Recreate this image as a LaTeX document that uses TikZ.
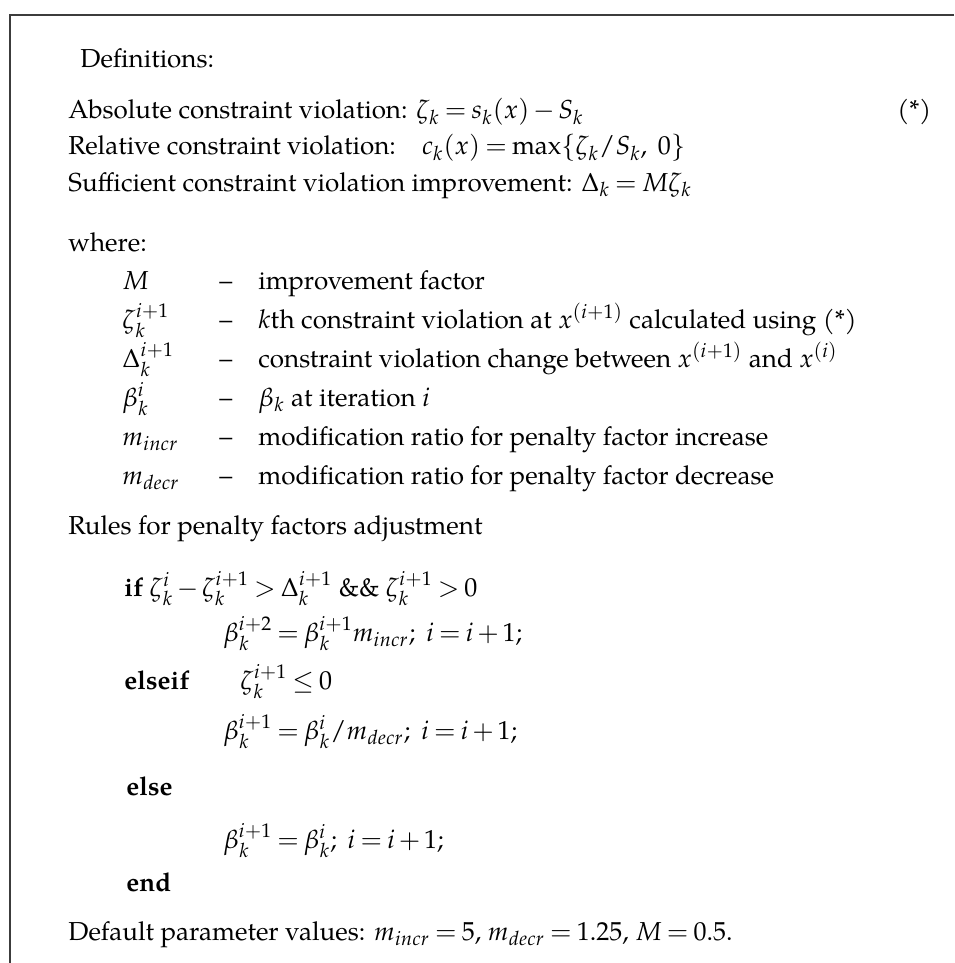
\documentclass[tikz,border=0pt]{standalone}
\usepackage{mathpazo}
\usepackage{fontspec}
\setmainfont{texgyrepagella}[Extension=.otf, UprightFont=*-regular, BoldFont=*-bold, ItalicFont=*-italic, BoldItalicFont=*-bolditalic]
\definecolor{framegray}{RGB}{60,60,60}
\newcommand{\mincr}{m_{incr}}
\newcommand{\mdecr}{m_{decr}}
\thickmuskip=3.5mu plus 1mu
\medmuskip=2.5mu plus 1mu
\tikzset{
  txt/.style={anchor=base west, inner sep=0pt, font=\fontsize{13pt}{15pt}\selectfont},
  kw/.style={txt, font=\fontsize{13pt}{15pt}\selectfont\bfseries},
  frame/.style={draw=framegray, line width=1pt}
}

\begin{document}
\begin{tikzpicture}[x=0.5pt, y=-0.5pt]
  \useasboundingbox (0,0) rectangle (954,963);
  % open frame, cut off at the right and at the bottom
  \draw[frame] (954,15) -- (10,15) -- (10,963);

  % definitions
  \node[txt] (defs) at (80,68) {Definitions:};
  \node[txt] (absviol) at (68,119) {Absolute constraint violation: $\zeta_k = s_k(x) - S_k$};
  \node[txt] (star) at (897,119) {(*)};
  \node[txt] (relviol) at (68,155) {Relative constraint violation:\quad $c_k(x) = \max\{\zeta_k/S_k,\ 0\}$};
  \node[txt] (suffimp) at (68,191) {Sufficient constraint violation improvement: $\Delta_k = M\zeta_k$};

  % where list
  \node[txt] (where) at (68,251) {where:};
  \node[txt] (symM) at (122,289) {$M$};
  \node[txt] (dashM) at (219,289) {--};
  \node[txt] (descM) at (258,289) {improvement factor};
  \node[txt] (symZeta) at (122,328) {$\zeta_k^{i+1}$};
  \node[txt] (dashZeta) at (219,328) {--};
  \node[txt] (descZeta) at (258,328) {$k$th constraint violation at $x^{(i+1)}$ calculated using (*)};
  \node[txt] (symDelta) at (122,367) {$\Delta_k^{i+1}$};
  \node[txt] (dashDelta) at (219,367) {--};
  \node[txt] (descDelta) at (258,367) {constraint violation change between $x^{(i+1)}$ and $x^{(i)}$};
  \node[txt] (symBeta) at (122,406) {$\beta_k^{i}$};
  \node[txt] (dashBeta) at (219,406) {--};
  \node[txt] (descBeta) at (258,406) {$\beta_k$ at iteration $i$};
  \node[txt] (symIncr) at (122,445) {$\mincr$};
  \node[txt] (dashIncr) at (219,445) {--};
  \node[txt] (descIncr) at (258,445) {modification ratio for penalty factor increase};
  \node[txt] (symDecr) at (122,484) {$\mdecr$};
  \node[txt] (dashDecr) at (219,484) {--};
  \node[txt] (descDecr) at (258,484) {modification ratio for penalty factor decrease};

  % adjustment rules
  \node[txt] (rules) at (68,534) {Rules for penalty factors adjustment};
  \node[txt] (ifrule) at (124,596) {\textbf{if} $\zeta_k^{i} - \zeta_k^{i+1} > \Delta_k^{i+1}$ \&\& $\zeta_k^{i+1} > 0$};
  \node[txt] (incstep) at (223,641) {$\beta_k^{i+2} = \beta_k^{i+1}\mincr;\ i = i + 1;$};
  \node[kw] (elseifkw) at (124,689) {elseif};
  \node[txt] (elseifcond) at (240,689) {$\zeta_k^{i+1} \le 0$};
  \node[txt] (decstep) at (223,739) {$\beta_k^{i+1} = \beta_k^{i} / \mdecr;\ i = i + 1;$};
  \node[kw] (elsekw) at (126,795) {else};
  \node[txt] (keepstep) at (223,848) {$\beta_k^{i+1} = \beta_k^{i};\ i = i + 1;$};
  \node[kw] (endkw) at (126,891) {end};

  \node[txt] (defaults) at (68,940) {Default parameter values: $\mincr = 5$, $\mdecr = 1.25$, $M = 0.5$.};
\end{tikzpicture}
\end{document}
